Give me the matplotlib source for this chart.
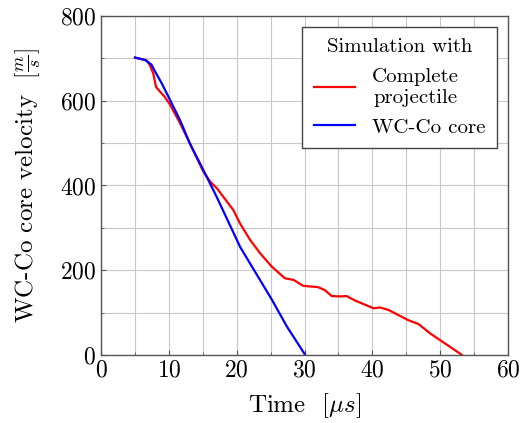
import numpy as np
import matplotlib
matplotlib.use("Agg")
import matplotlib.pyplot as plt

plt.rcParams['font.family'] = 'serif'
plt.rcParams['font.serif'] = ['cmr10']
plt.rcParams['mathtext.fontset'] = 'cm'
plt.rcParams['axes.formatter.use_mathtext'] = True

# --- datos ---
t_complete = [5.0, 6.7, 7.2, 7.7, 8.1, 8.5, 9.4, 10.2, 11.65, 13.1, 15.1, 16.1, 17.1,
              19.5, 20.5, 22.0, 23.45, 25.2, 27.1, 28.4, 29.8, 32.0, 33.0, 34.0,
              35.25, 36.2, 37.5, 38.7, 40.2, 41.15, 42.4, 43.85, 45.3, 46.8, 48.5,
              51.0, 53.2]
v_complete = [702, 696, 684, 664, 633, 625, 609, 590, 547, 499, 432, 409, 393,
              342, 310, 271, 240, 208, 181, 177, 163, 160, 153, 139,
              138, 139, 128, 120, 110, 112, 106, 94, 82, 73, 51,
              24, 0]

t_core = [5.0, 6.5, 7.4, 8.0, 8.95, 10.2, 11.65, 13.1, 15.1, 17.05, 19.8, 20.5,
          25.2, 27.4, 30.1]
v_core = [702, 696, 686, 668, 641, 601, 554, 499, 436, 373, 279, 255,
          130, 67, 0]

fig = plt.figure(figsize=(5.21, 4.23), dpi=100)
ax = fig.add_axes([0.194, 0.161, 0.781, 0.801])

ax.plot(t_complete, v_complete, color='#ff0000', lw=1.6, label='Complete\nprojectile')
ax.plot(t_core, v_core, color='#0000ff', lw=1.6, label='WC-Co core')

ax.set_xlim(0, 60)
ax.set_ylim(0, 800)
ax.set_xticks(np.arange(0, 61, 10))
ax.set_yticks(np.arange(0, 801, 200))
ax.set_xticks(np.arange(0, 61, 5), minor=True)
ax.set_yticks(np.arange(0, 801, 100), minor=True)
ax.grid(True, which='both', color='#c8c8c8', lw=0.8)
ax.set_axisbelow(True)
ax.tick_params(which='both', direction='in', labelsize=17, color='#555555')
for s in ax.spines.values():
    s.set_color('#555555')
    s.set_linewidth(1.0)

ax.set_xlabel(r'Time  $[\mu s]$', fontsize=18, labelpad=7)
ax.set_ylabel(r'WC-Co core velocity  $\left[\frac{m}{s}\right]$', fontsize=18, labelpad=13)

leg = ax.legend(title='Simulation with', fontsize=15, title_fontsize=15,
                loc='upper right', bbox_to_anchor=(0.973, 0.968), borderaxespad=0,
                fancybox=False, edgecolor='#444444', framealpha=1,
                handlelength=2.0, labelspacing=0.55, borderpad=0.55)
leg.get_frame().set_linewidth(1.0)
for txt in leg.get_texts():
    txt.set_multialignment('center')

fig.savefig('out.png', dpi=100)
